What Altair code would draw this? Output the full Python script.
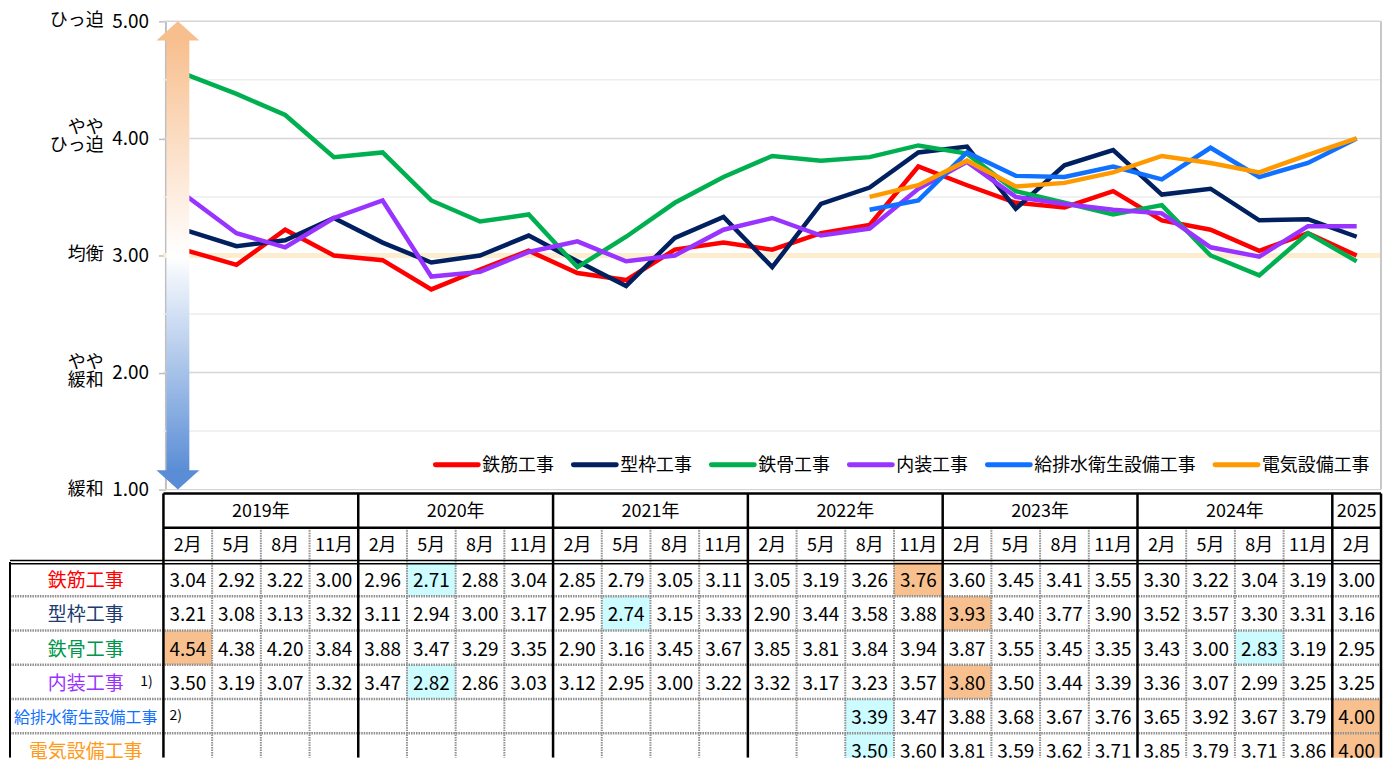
import altair as alt
import pandas as pd

JP = "Noto Sans CJK JP"

# ---------------- data ----------------
years = [2019, 2019, 2019, 2019, 2020, 2020, 2020, 2020, 2021, 2021, 2021, 2021,
         2022, 2022, 2022, 2022, 2023, 2023, 2023, 2023, 2024, 2024, 2024, 2024, 2025]
months = ["2月", "5月", "8月", "11月", "2月", "5月", "8月", "11月", "2月", "5月", "8月", "11月",
          "2月", "5月", "8月", "11月", "2月", "5月", "8月", "11月", "2月", "5月", "8月", "11月", "2月"]
year_labels = ["2019年", "2020年", "2021年", "2022年", "2023年", "2024年", "2025"]

series_names = ["鉄筋工事", "型枠工事", "鉄骨工事", "内装工事", "給排水衛生設備工事", "電気設備工事"]
tekkin = [3.04, 2.92, 3.22, 3.00, 2.96, 2.71, 2.88, 3.04, 2.85, 2.79, 3.05, 3.11,
          3.05, 3.19, 3.26, 3.76, 3.60, 3.45, 3.41, 3.55, 3.30, 3.22, 3.04, 3.19, 3.00]
katawaku = [3.21, 3.08, 3.13, 3.32, 3.11, 2.94, 3.00, 3.17, 2.95, 2.74, 3.15, 3.33,
            2.90, 3.44, 3.58, 3.88, 3.93, 3.40, 3.77, 3.90, 3.52, 3.57, 3.30, 3.31, 3.16]
tekkotsu = [4.54, 4.38, 4.20, 3.84, 3.88, 3.47, 3.29, 3.35, 2.90, 3.16, 3.45, 3.67,
            3.85, 3.81, 3.84, 3.94, 3.87, 3.55, 3.45, 3.35, 3.43, 3.00, 2.83, 3.19, 2.95]
naiso = [3.50, 3.19, 3.07, 3.32, 3.47, 2.82, 2.86, 3.03, 3.12, 2.95, 3.00, 3.22,
         3.32, 3.17, 3.23, 3.57, 3.80, 3.50, 3.44, 3.39, 3.36, 3.07, 2.99, 3.25, 3.25]
kyuhaisui = [None, None, None, None, None, None, None, None, None, None, None, None,
             None, None, 3.39, 3.47, 3.88, 3.68, 3.67, 3.76, 3.65, 3.92, 3.67, 3.79, 4.00]
denki = [None, None, None, None, None, None, None, None, None, None, None, None,
         None, None, 3.50, 3.60, 3.81, 3.59, 3.62, 3.71, 3.85, 3.79, 3.71, 3.86, 4.00]

y_ticks = [1, 2, 3, 4, 5]
y_minor = [1.5, 2.5, 3.5, 4.5]
y_words = ["緩和", "やや\n緩和", "均衡", "やや\nひっ迫", "ひっ迫"]
balance_value = [3]

line_colors = ["#FF0000", "#002060", "#00B050", "#9933FF", "#1070FF", "#FF9900"]
label_colors = ["#FF0000", "#203A70", "#00964B", "#9933FF", "#1070FF", "#FF9A1A"]

# ---------------- layout constants ----------------
W, CH = 1380, 751
PLOT_L, PLOT_R = 155, 1377
Y_TOP, Y_BOT = 12, 482
n = len(years)
colw = (PLOT_R - PLOT_L) / n
xmin, xmax = -0.5, n - 0.5
table_left = xmin - (PLOT_L - 1) / colw
ppu = (Y_BOT - Y_TOP) / (max(y_ticks) - min(y_ticks))


def cu(px):  # pixel -> column units of the x scale
    return (px - PLOT_L) / colw + xmin


def lu(py):  # pixel -> value units of the line y scale
    return min(y_ticks) + (Y_BOT - py) / ppu


# ---------------- tables ----------------
all_series = [tekkin, katawaku, tekkotsu, naiso, kyuhaisui, denki]
rows = []
for s, vals in zip(series_names, all_series):
    for i, v in enumerate(vals):
        if v is not None:
            rows.append({"series": s, "i": i, "value": v, "label": f"{v:.2f}"})
df_vals = pd.DataFrame(rows)
df_vals["vmax"] = df_vals.groupby("series")["value"].transform("max")
df_vals["vmin"] = df_vals.groupby("series")["value"].transform("min")
df_vals["x0"] = df_vals["i"] - 0.5
df_vals["x1"] = df_vals["i"] + 0.5

df_per = pd.DataFrame({"i": list(range(n)), "year": years, "month": months, "row": "month"})
yr_order = sorted(set(years))
df_years = (df_per.groupby("year")["i"].mean().reset_index()
            .assign(label=lambda d: [year_labels[yr_order.index(y)] for y in d["year"]], row="year"))

year_bounds = [i - 0.5 for i in range(n) if i == 0 or years[i] != years[i - 1]] + [xmax]
month_bounds = [i - 0.5 for i in range(1, n) if years[i] == years[i - 1]]

# legend layout (symbol 43px, gap 4px, label 18px per character, 19.5px between entries)
leg = []
px = 428
for s in series_names:
    leg.append({"series": s, "s0": cu(px), "s1": cu(px + 43), "lx": cu(px + 47), "ly": lu(457)})
    px += 47 + len(s) * 18 + 19.5
df_leg = pd.DataFrame(leg)

xs = alt.Scale(domain=[xmin, xmax], range=[PLOT_L, PLOT_R], nice=False, zero=False)
ys_line = alt.Scale(domain=[min(y_ticks), max(y_ticks)], range=[Y_BOT, Y_TOP], nice=False, zero=False)
table_rows = ["year", "month"] + series_names
ys_tab = alt.Scale(type="band", domain=table_rows, range=[486, 761], paddingInner=0, paddingOuter=0)
cscale = alt.Scale(domain=series_names, range=line_colors)


def X(f):
    return alt.X(f, scale=xs, axis=None, title=None)


def YL(f):
    return alt.Y(f, scale=ys_line, axis=None, title=None)


def YT(f, bp):
    return alt.Y(f, scale=ys_tab, axis=None, title=None, bandPosition=bp)


# ---------------- plot background ----------------
grid_minor = alt.Chart(pd.DataFrame({"v": y_minor, "x0": xmin, "x1": xmax})).mark_rule(
    color="#EDEDED", strokeWidth=1.5).encode(x=X("x0:Q"), x2="x1:Q", y=YL("v:Q"))
grid_major = alt.Chart(pd.DataFrame({"v": y_ticks, "x0": xmin, "x1": xmax})).mark_rule(
    color="#D6D6D6", strokeWidth=1.5).encode(x=X("x0:Q"), x2="x1:Q", y=YL("v:Q"))
band3 = alt.Chart(pd.DataFrame({"v": balance_value, "x0": xmin, "x1": xmax})).mark_rule(
    color="#FCEDCF", strokeWidth=5).encode(x=X("x0:Q"), x2="x1:Q", y=YL("v:Q"))
border_r = alt.Chart(pd.DataFrame({"x": [xmax], "t": [max(y_ticks)], "b": [min(y_ticks)]})).mark_rule(
    color="#C8C8C8", strokeWidth=2).encode(x=X("x:Q"), y=YL("t:Q"), y2="b:Q")

# ---------------- table ----------------
hl_max = alt.Chart(df_vals[df_vals["value"] == df_vals["vmax"]]).mark_rect(
    color="#F8C08F", clip=True).encode(x=X("x0:Q"), x2="x1:Q", y=YT("series:N", 0))
hl_min = alt.Chart(df_vals[df_vals["value"] == df_vals["vmin"]]).mark_rect(
    color="#CCFCFF", clip=True).encode(x=X("x0:Q"), x2="x1:Q", y=YT("series:N", 0))

h_thick = alt.Chart(pd.DataFrame({"row": ["year", "month"], "x0": xmin, "x1": xmax})).mark_rule(
    color="#000000", strokeWidth=2.5).encode(x=X("x0:Q"), x2="x1:Q", y=YT("row:N", 0))
dbl_df = pd.DataFrame({"row": [series_names[0]], "x0": table_left, "x1": xmax})
h_dbl1 = alt.Chart(dbl_df).mark_rule(color="#000000", strokeWidth=1.5, yOffset=-1.6).encode(
    x=X("x0:Q"), x2="x1:Q", y=YT("row:N", 0))
h_dbl2 = alt.Chart(dbl_df).mark_rule(color="#000000", strokeWidth=1.5, yOffset=1.6).encode(
    x=X("x0:Q"), x2="x1:Q", y=YT("row:N", 0))
h_dot = alt.Chart(pd.DataFrame({"row": series_names[1:], "x0": table_left, "x1": xmax})).mark_rule(
    color="#8E8E8E", strokeWidth=2.5, strokeDash=[1.5, 1]).encode(x=X("x0:Q"), x2="x1:Q", y=YT("row:N", 0))

v_dot = alt.Chart(pd.DataFrame({"x": month_bounds, "row": "month"})).mark_rule(
    color="#8E8E8E", strokeWidth=2, strokeDash=[1.5, 1], clip=True).encode(
    x=X("x:Q"), y=YT("row:N", 0), y2=alt.value(CH))
v_thick = alt.Chart(pd.DataFrame({"x": year_bounds, "row": "year"})).mark_rule(
    color="#000000", strokeWidth=2.5, clip=True).encode(x=X("x:Q"), y=YT("row:N", 0), y2=alt.value(CH))
v_left = alt.Chart(pd.DataFrame({"x": [table_left], "row": [series_names[0]]})).mark_rule(
    color="#000000", strokeWidth=2, clip=True).encode(x=X("x:Q"), y=YT("row:N", 0), y2=alt.value(CH))

t_years = alt.Chart(df_years).mark_text(font=JP, fontSize=18, color="#000000", dy=1).encode(
    x=X("i:Q"), y=YT("row:N", 0.5), text="label:N")
t_months = alt.Chart(df_per).mark_text(font=JP, fontSize=18, color="#000000", dy=1).encode(
    x=X("i:Q"), y=YT("row:N", 0.5), text="month:N")
t_labels = alt.Chart(pd.DataFrame({"name": series_names})).mark_text(font=JP, dy=2).encode(
    x=alt.value(77), y=YT("name:N", 0.5), text="name:N",
    fill=alt.Fill("name:N", scale=alt.Scale(domain=series_names, range=label_colors), legend=None),
    size=alt.condition("datum.name == '給排水衛生設備工事'", alt.value(16), alt.value(19)))
t_vals = alt.Chart(df_vals).mark_text(font=JP, fontSize=19, color="#000000", clip=True, dy=2).encode(
    x=X("i:Q"), y=YT("series:N", 0.5), text="label:N")
t_note1 = alt.Chart(pd.DataFrame({"name": ["内装工事"], "t": ["1)"]})).mark_text(
    font=JP, fontSize=14, color="#000000", align="center").encode(
    x=alt.value(138), y=YT("name:N", 0.5), text="t:N")
t_note2 = alt.Chart(pd.DataFrame({"name": ["給排水衛生設備工事"], "t": ["2)"], "x": [xmin]})).mark_text(
    font=JP, fontSize=14, color="#000000", align="left", dx=6).encode(
    x=X("x:Q"), y=YT("name:N", 0.5), text="t:N")

# ---------------- lines ----------------
y_axis = alt.Axis(values=y_ticks, labelExpr="format(datum.value, '.2f')", orient="left", offset=-(PLOT_L + 2),
                  grid=False, domainColor="#BFBFBF", domainWidth=2, tickColor="#BFBFBF", tickSize=7,
                  tickWidth=1.5, labelFont=JP, labelFontSize=19, labelColor="#000000", labelPadding=10,
                  title=None, labelFlush=False, labelOverlap=False)
lines = alt.Chart(df_vals).mark_line(strokeWidth=4.5).encode(
    x=X("i:Q"),
    y=alt.Y("value:Q", scale=ys_line, axis=y_axis, title=None),
    color=alt.Color("series:N", scale=cscale, legend=None),
)

# ---------------- legend (drawn as marks) ----------------
leg_sym = alt.Chart(df_leg).mark_rule(strokeWidth=5, strokeCap="round").encode(
    x=X("s0:Q"), x2="s1:Q", y=YL("ly:Q"), color=alt.Color("series:N", scale=cscale, legend=None))
leg_txt = alt.Chart(df_leg).mark_text(font=JP, fontSize=18, align="left", baseline="middle",
                                      color="#000000", dy=1).encode(
    x=X("lx:Q"), y=YL("ly:Q"), text="series:N")

# ---------------- arrow ----------------
head = 19
df_arrow = pd.DataFrame({"top": [max(y_ticks)], "bot": [min(y_ticks)],
                         "st": [max(y_ticks) - (head - 1) / ppu], "sb": [min(y_ticks) + (head - 1) / ppu]})
grad = alt.LinearGradient(gradient="linear",
                          stops=[alt.GradientStop(color="#F8BF8E", offset=0),
                                 alt.GradientStop(color="#FFFFFF", offset=0.5),
                                 alt.GradientStop(color="#5A8DD6", offset=1)],
                          x1=0, x2=0, y1=0, y2=1)
shaft = alt.Chart(df_arrow).mark_rect(color=grad).encode(
    x=alt.value(158), x2=alt.value(181), y=YL("st:Q"), y2="sb:Q")
head_top = alt.Chart(df_arrow).mark_point(shape="M0,0L1,0.9L-1,0.9Z", size=1849, filled=True,
                                          color="#F8BF8E", opacity=1, strokeWidth=0).encode(
    x=alt.value(169.5), y=YL("top:Q"))
head_bot = alt.Chart(df_arrow).mark_point(shape="M0,0L1,-0.9L-1,-0.9Z", size=1849, filled=True,
                                          color="#5A8DD6", opacity=1, strokeWidth=0).encode(
    x=alt.value(169.5), y=YL("bot:Q"))

df_words = pd.DataFrame({"v": y_ticks, "t": y_words})
df_words["two"] = df_words["t"].str.contains("\n")
words1 = alt.Chart(df_words[~df_words["two"]]).mark_text(
    font=JP, fontSize=18, align="right", baseline="middle", color="#000000").encode(
    x=alt.value(95), y=YL("v:Q"), text="t:N")
words2 = alt.Chart(df_words[df_words["two"]]).mark_text(
    font=JP, fontSize=18, align="right", baseline="middle", lineBreak="\n", lineHeight=18,
    color="#000000", dy=-10).encode(x=alt.value(95), y=YL("v:Q"), text="t:N")

chart = alt.layer(
    grid_minor, grid_major, band3, border_r,
    hl_max, hl_min, h_dot, v_dot, h_thick, h_dbl1, h_dbl2, v_thick, v_left,
    t_years, t_months, t_labels, t_vals, t_note1, t_note2,
    lines, leg_sym, leg_txt, shaft, head_top, head_bot, words1, words2,
).resolve_scale(y="independent").properties(
    width=W, height=CH, padding=0
).configure(font=JP).configure_view(strokeWidth=0, stroke=None)

chart.save("out.html", embed_options={"renderer": "svg", "actions": False})
